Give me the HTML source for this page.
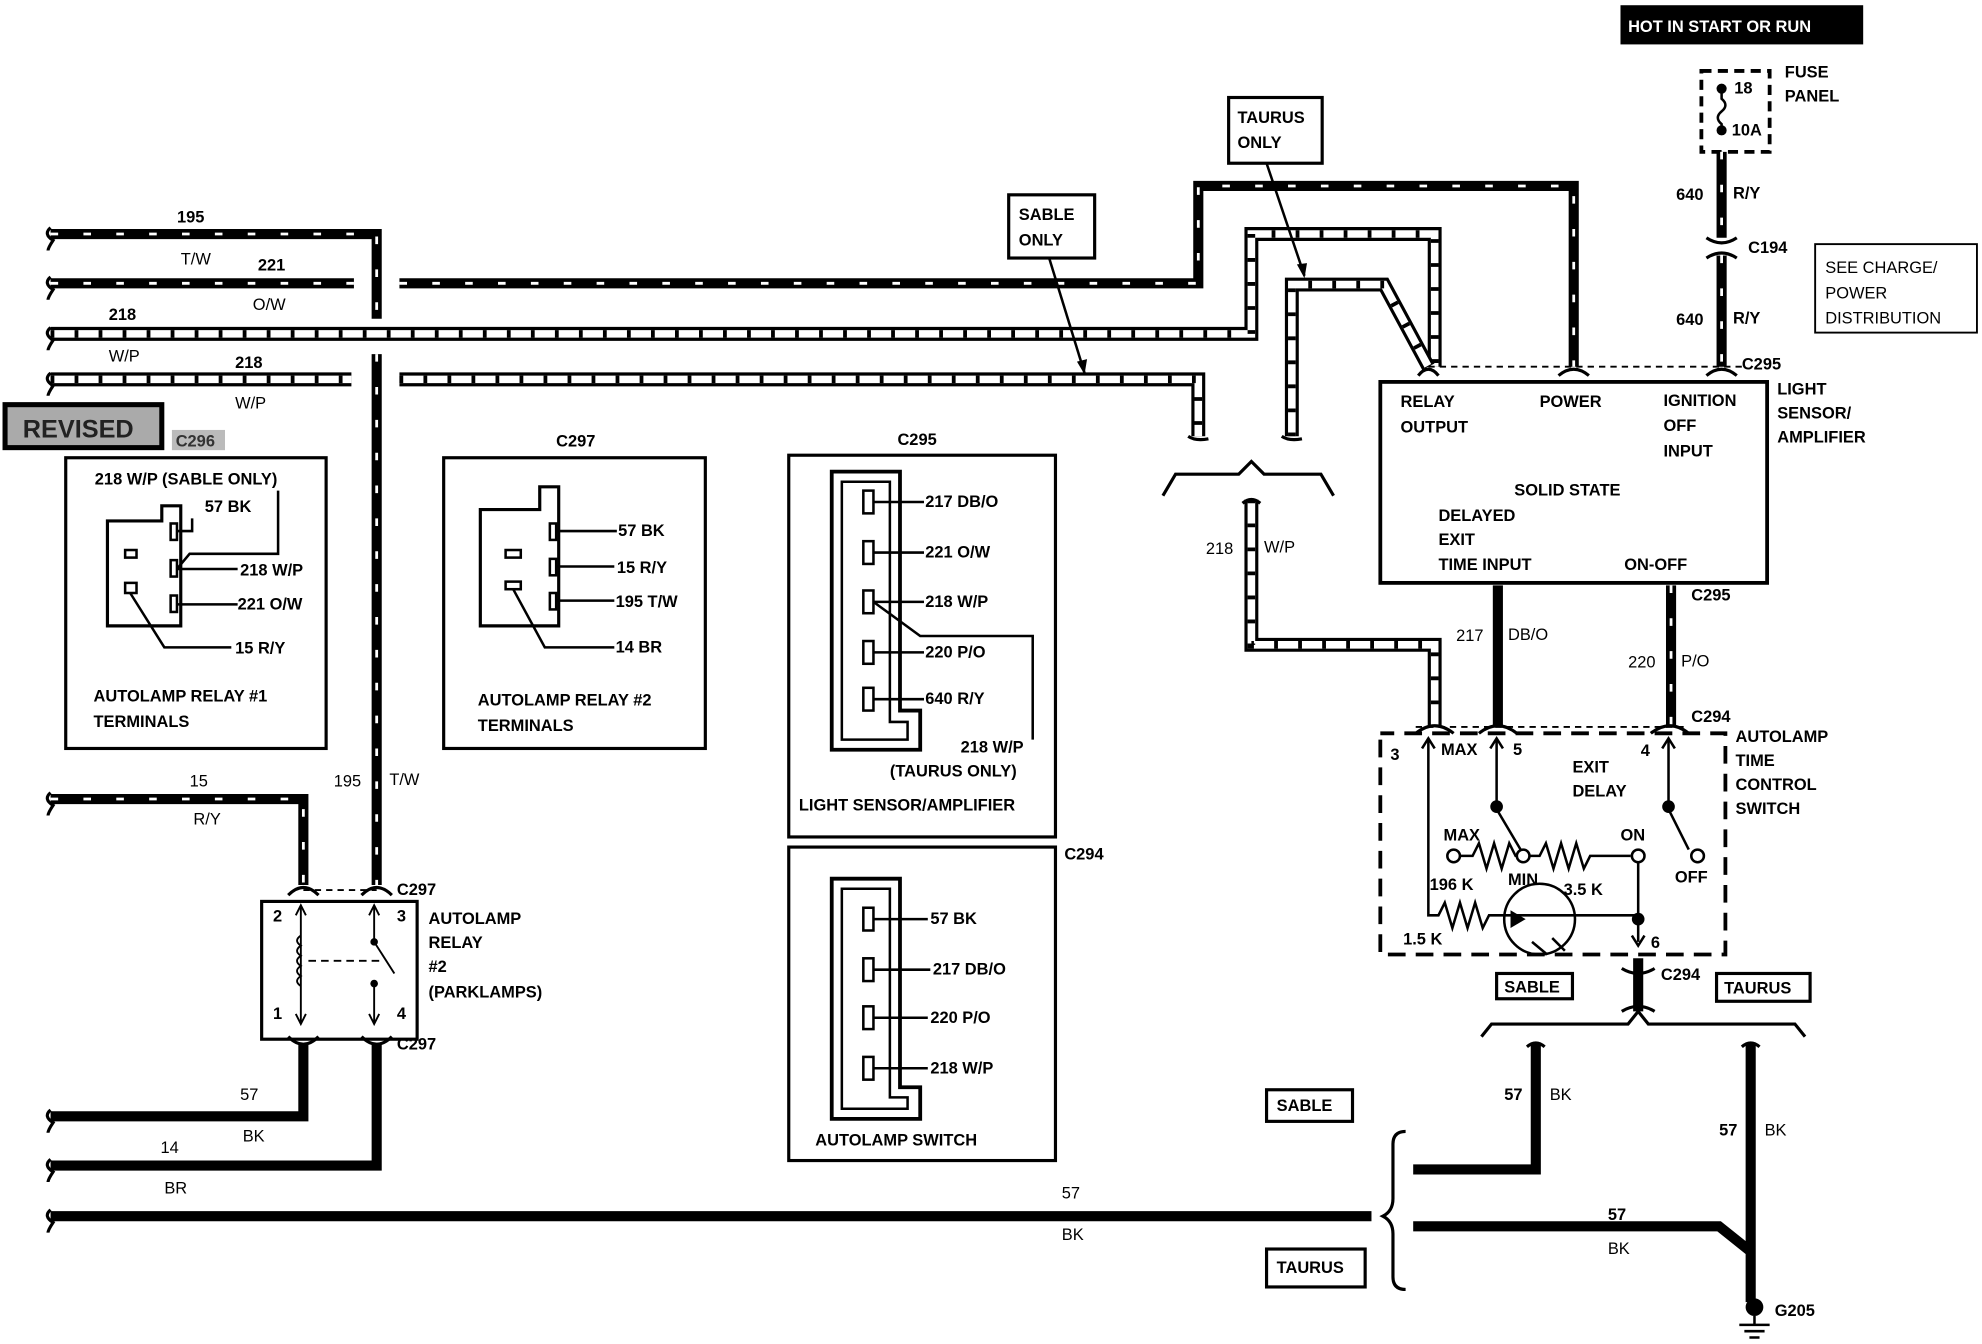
<!DOCTYPE html>
<html><head><meta charset="utf-8"><style>
html,body{margin:0;padding:0;background:#fff;}
svg{display:block;}
text{font-family:"Liberation Sans",sans-serif;font-weight:bold;font-size:13px;fill:#000;}
.w{fill:none;stroke:#000;stroke-width:8;stroke-linejoin:miter;}
.s{fill:none;stroke:#fff;stroke-width:2.2;stroke-dasharray:6 20;}
.h1{fill:none;stroke:#000;stroke-width:11;}
.h2{fill:none;stroke:#fff;stroke-width:6;}
.h3{fill:none;stroke:#000;stroke-width:6;stroke-dasharray:3 16;}
.t{fill:none;stroke:#000;stroke-width:2;}
.b{fill:none;stroke:#000;stroke-width:2.5;}
.d{fill:none;stroke:#000;stroke-width:3;stroke-dasharray:14 8;}
.dd{fill:none;stroke:#000;stroke-width:1.5;stroke-dasharray:5 4;}
</style></head><body>
<svg width="1982" height="1344" viewBox="0 0 1568 1063" xmlns="http://www.w3.org/2000/svg">
<rect x="1282" y="4" width="192" height="31" fill="#000"/>
<text x="1288" y="25" style="fill:#fff;font-size:13px">HOT IN START OR RUN</text>
<rect x="1346" y="56" width="54" height="64" class="dd" style="stroke-width:3;stroke-dasharray:8 5"/>
<circle cx="1362" cy="70" r="4"/><circle cx="1362" cy="103" r="4"/>
<path d="M1362 70 v8 q6 5 0 10 q-6 5 0 10 v5" class="t"/>
<text x="1372" y="74">18</text><text x="1370" y="107">10A</text>
<text x="1412" y="61">FUSE</text><text x="1412" y="80">PANEL</text>
<rect x="1436" y="193" width="128" height="70" class="t" style="stroke-width:1.5"/>
<text x="1444" y="216" style="font-weight:normal">SEE CHARGE/</text>
<text x="1444" y="236" style="font-weight:normal">POWER</text>
<text x="1444" y="256" style="font-weight:normal">DISTRIBUTION</text>

<path d="M1362 120 V188 M1362 202 V290" class="w"/><path d="M1362 120 V188 M1362 202 V290" class="s"/>
<path d="M1350 188 q12 8 24 0 M1350 204 q12 -8 24 0" class="b"/>
<text x="1326" y="158">640</text><text x="1371" y="157">R/Y</text>
<text x="1383" y="200">C194</text>
<text x="1326" y="257">640</text><text x="1371" y="256">R/Y</text>

<path d="M40 185 H298 V252" class="w"/><path d="M40 185 H298 V252" class="s"/>
<path d="M298 280 V700" class="w"/><path d="M298 280 V700" class="s"/>
<path d="M40 224 H280 M316 224 H948 V147 H1245 V290" class="w"/><path d="M40 224 H280 M316 224 H948 V147 H1245 V290" class="s"/>
<path d="M40 264 H990 V185 H1135 V290" class="h1"/><path d="M40 264 H990 V185 H1135 V290" class="h2"/><path d="M40 264 H990 V185 H1135 V290" class="h3"/>
<path d="M40 300 H278 M316 300 H948 V345" class="h1"/><path d="M40 300 H278 M316 300 H948 V345" class="h2"/><path d="M40 300 H278 M316 300 H948 V345" class="h3"/>
<path d="M1022 345 V225 H1095 L1130 290" class="h1"/><path d="M1022 345 V225 H1095 L1130 290" class="h2"/><path d="M1022 345 V225 H1095 L1130 290" class="h3"/>
<g class="b"><path d="M40 180 q-6 5 2 10 q-4 6 -4 8 M40 219 q-6 5 2 10 q-4 6 -4 8 M40 259 q-6 5 2 10 q-4 6 -4 8 M40 295 q-6 5 2 10 q-4 6 -4 8 M40 627 q-6 5 2 10 q-4 6 -4 8 M40 878 q-6 5 2 10 q-4 6 -4 8 M40 917 q-6 5 2 10 q-4 6 -4 8 M40 957 q-6 5 2 10 q-4 6 -4 8"/>
<path d="M940 345 q6 4 16 2 M1014 345 q6 4 16 2"/></g>
<text x="140" y="176">195</text><text x="143" y="209" style="font-weight:normal">T/W</text>
<text x="204" y="214">221</text><text x="200" y="245" style="font-weight:normal">O/W</text>
<text x="86" y="253">218</text><text x="86" y="286" style="font-weight:normal">W/P</text>
<text x="186" y="291">218</text><text x="186" y="323" style="font-weight:normal">W/P</text>

<rect x="798" y="154" width="68" height="50" fill="#fff" class="b"/>
<text x="806" y="174">SABLE</text><text x="806" y="194">ONLY</text>
<path d="M830 204 L858 295" class="t"/><path d="M852 286 l6 10 l2 -12z"/>
<rect x="972" y="77" width="74" height="52" fill="#fff" class="b"/>
<text x="979" y="97">TAURUS</text><text x="979" y="117">ONLY</text>
<path d="M1002 129 L1032 218" class="t"/><path d="M1026 209 l6 11 l2 -12z"/>

<path d="M920 392 L930 375 H980 L990 365 L1000 375 H1045 L1055 392" class="b"/>
<path d="M990 395 V510 H1135 V575" class="h1"/><path d="M990 395 V510 H1135 V575" class="h2"/><path d="M990 395 V510 H1135 V575" class="h3"/>
<path d="M983 398 q7 -6 14 0" class="b"/>
<text x="954" y="438" style="font-weight:normal">218</text><text x="1000" y="437" style="font-weight:normal">W/P</text>

<rect x="1092" y="302" width="306" height="159" class="b" style="stroke-width:3"/>
<path d="M1130 290 H1380" class="dd"/>
<g class="b"><path d="M1122 297 q8 -10 16 0 M1233 297 q12 -10 24 0 M1350 297 q12 -10 24 0"/></g>
<text x="1108" y="322">RELAY</text><text x="1108" y="342">OUTPUT</text>
<text x="1218" y="322">POWER</text>
<text x="1316" y="321">IGNITION</text><text x="1316" y="341">OFF</text><text x="1316" y="361">INPUT</text>
<text x="1198" y="392">SOLID STATE</text><text x="1138" y="412">DELAYED</text><text x="1138" y="431">EXIT</text><text x="1138" y="451">TIME INPUT</text>
<text x="1285" y="451">ON-OFF</text>
<text x="1378" y="292">C295</text>
<text x="1406" y="312">LIGHT</text><text x="1406" y="331">SENSOR/</text><text x="1406" y="350">AMPLIFIER</text>
<text x="1338" y="475">C295</text>

<path d="M1185 463 V575" class="w"/>
<path d="M1322 463 V575" class="w"/><path d="M1322 463 V575" class="s"/>
<text x="1152" y="507" style="font-weight:normal">217</text><text x="1193" y="506" style="font-weight:normal">DB/O</text>
<text x="1288" y="528" style="font-weight:normal">220</text><text x="1330" y="527" style="font-weight:normal">P/O</text>

<path d="M1120 575 H1335" class="dd"/>
<g class="b"><path d="M1120 580 q15 -12 30 0 M1170 580 q15 -12 30 0 M1306 580 q15 -12 30 0"/></g>
<text x="1338" y="571">C294</text>
<path d="M1092 585 V755 H1365 V580 H1092" class="d"/>
<text x="1100" y="601">3</text><text x="1140" y="597">MAX</text><text x="1197" y="597">5</text><text x="1298" y="598">4</text>
<text x="1244" y="611">EXIT</text><text x="1244" y="630">DELAY</text>
<text x="1373" y="587">AUTOLAMP</text><text x="1373" y="606">TIME</text><text x="1373" y="625">CONTROL</text><text x="1373" y="644">SWITCH</text>
<g class="b" style="stroke-width:2">
<path d="M1130 585 V724 H1138 l5 -10 l6 20 l6 -20 l6 20 l6 -20 l6 20 l5 -10 H1296"/>
<path d="M1184 585 V640 L1203 672"/>
<path d="M1155 677 H1165 l5 -10 l6 20 l6 -20 l6 20 l6 -20 l5 10 H1200"/>
<path d="M1210 677 H1218 l5 -10 l6 20 l6 -20 l6 20 l6 -20 l6 20 l5 -10 H1290"/>
<path d="M1296 682 V745"/>
<path d="M1320 585 V640 L1336 672"/>
<path d="M1125 592 l5 -8 l5 8 M1179 592 l5 -8 l5 8 M1315 592 l5 -8 l5 8 M1291 740 l5 8 l5 -8"/>
<circle cx="1218" cy="727" r="28"/><path d="M1212 745 l12 10 M1228 742 l10 10"/>
</g>
<circle cx="1150" cy="677" r="5" fill="#fff" class="b" style="stroke-width:2"/>
<circle cx="1205" cy="677" r="5" fill="#fff" class="b" style="stroke-width:2"/>
<circle cx="1296" cy="677" r="5" fill="#fff" class="b" style="stroke-width:2"/>
<circle cx="1343" cy="677" r="5" fill="#fff" class="b" style="stroke-width:2"/>
<circle cx="1184" cy="638" r="5"/><circle cx="1320" cy="638" r="5"/><circle cx="1296" cy="727" r="5"/>
<path d="M1195 720 l12 7 l-12 7z"/>
<text x="1142" y="665">MAX</text><text x="1282" y="665">ON</text><text x="1325" y="698">OFF</text>
<text x="1131" y="704">196 K</text><text x="1193" y="700">MIN</text><text x="1237" y="708">3.5 K</text>
<text x="1110" y="747">1.5 K</text><text x="1306" y="750">6</text>

<path d="M1296 758 V800" class="w"/>
<path d="M1283 766 q13 8 26 0 M1283 800 q13 -8 26 0" class="b"/>
<text x="1314" y="775">C294</text>
<rect x="1184" y="770" width="60" height="20" class="b"/><text x="1190" y="785">SABLE</text>
<rect x="1358" y="770" width="74" height="22" class="b"/><text x="1364" y="786">TAURUS</text>
<path d="M1172 820 L1180 810 H1288 L1296 800 L1304 810 H1420 L1428 820" class="b"/>
<path d="M1215 825 V925 H1118" class="w"/>
<path d="M1385 825 V990 L1360 970 H1118 M1385 990 V1030" class="w"/>
<path d="M1208 828 q7 -6 14 0 M1378 828 q7 -6 14 0" class="b"/>
<text x="1190" y="870">57</text><text x="1226" y="870" style="font-weight:normal">BK</text>
<text x="1360" y="898">57</text><text x="1396" y="898" style="font-weight:normal">BK</text>
<text x="1272" y="965">57</text><text x="1272" y="992" style="font-weight:normal">BK</text>
<circle cx="1388" cy="1034" r="7"/>
<path d="M1388 1041 v7 M1376 1048 h24 M1380 1053 h16 M1384 1058 h8" class="t"/>
<text x="1404" y="1041">G205</text>
<rect x="1002" y="862" width="68" height="25" class="b"/><text x="1010" y="879">SABLE</text>
<rect x="1002" y="988" width="78" height="30" class="b"/><text x="1010" y="1007">TAURUS</text>
<path d="M1112 895 q-10 0 -10 10 V948 q0 10 -8 14 q8 4 8 14 V1010 q0 10 10 10" class="b"/>
<path d="M40 962 H1085" class="w"/>
<text x="840" y="948" style="font-weight:normal">57</text><text x="840" y="981" style="font-weight:normal">BK</text>

<rect x="2" y="318" width="128" height="38" fill="#000"/>
<rect x="6" y="322" width="120" height="30" fill="#aaa"/>
<text x="18" y="346" style="font-size:20px;fill:#222">REVISED</text>
<rect x="136" y="340" width="42" height="16" fill="#bbb"/><text x="139" y="353" style="fill:#333">C296</text>

<rect x="52" y="362" width="206" height="230" class="b"/>
<text x="75" y="383">218 W/P (SABLE ONLY)</text>
<path d="M85 412 H128 V400 H143 V495 H85Z" class="b"/>
<g class="t"><rect x="99" y="435" width="9" height="6"/><rect x="99" y="461" width="9" height="8"/><rect x="135" y="414" width="5" height="13"/><rect x="135" y="443" width="5" height="13"/><rect x="135" y="471" width="5" height="13"/>
<path d="M140 420 H152 V410 M140 450 L150 438 H220 V388 M140 450 H188 M140 478 H188 M103 469 L130 512 H183"/></g>
<text x="162" y="405">57 BK</text><text x="190" y="455">218 W/P</text><text x="188" y="482">221 O/W</text><text x="186" y="517">15 R/Y</text>
<text x="74" y="555">AUTOLAMP RELAY #1</text><text x="74" y="575">TERMINALS</text>

<text x="440" y="353">C297</text>
<rect x="351" y="362" width="207" height="230" class="b"/>
<path d="M380 403 H427 V385 H442 V495 H380Z" class="b"/>
<g class="t"><rect x="400" y="435" width="12" height="6"/><rect x="400" y="460" width="12" height="6"/><rect x="435" y="414" width="5" height="13"/><rect x="435" y="442" width="5" height="13"/><rect x="435" y="469" width="5" height="13"/>
<path d="M440 420 H488 M440 448 H486 M440 475 H486 M406 466 L431 512 H486"/></g>
<text x="489" y="424">57 BK</text><text x="488" y="453">15 R/Y</text><text x="487" y="480">195 T/W</text><text x="487" y="516">14 BR</text>
<text x="378" y="558">AUTOLAMP RELAY #2</text><text x="378" y="578">TERMINALS</text>

<text x="710" y="352">C295</text>
<rect x="624" y="360" width="211" height="302" class="b"/>
<path d="M658 373 H712 V562 H728 V593 H658Z" class="b" style="stroke-width:3"/>
<path d="M666 381 H704 V571 H718 V585 H666Z" class="t"/>
<g class="t"><rect x="683" y="388" width="8" height="18"/><rect x="683" y="428" width="8" height="18"/><rect x="683" y="467" width="8" height="18"/><rect x="683" y="507" width="8" height="18"/><rect x="683" y="544" width="8" height="18"/>
<path d="M691 397 H731 M691 437 H731 M691 476 H731 M691 516 H731 M691 553 H731 M691 476 L728 503 H817 V585"/></g>
<text x="732" y="401">217 DB/O</text><text x="732" y="441">221 O/W</text><text x="732" y="480">218 W/P</text><text x="732" y="520">220 P/O</text><text x="732" y="557">640 R/Y</text>
<text x="760" y="595">218 W/P</text><text x="704" y="614">(TAURUS ONLY)</text>
<text x="632" y="641">LIGHT SENSOR/AMPLIFIER</text>

<text x="842" y="680">C294</text>
<rect x="624" y="670" width="211" height="248" class="b"/>
<path d="M658 695 H712 V860 H728 V885 H658Z" class="b" style="stroke-width:3"/>
<path d="M666 703 H704 V868 H718 V877 H666Z" class="t"/>
<g class="t"><rect x="683" y="718" width="8" height="18"/><rect x="683" y="758" width="8" height="18"/><rect x="683" y="796" width="8" height="18"/><rect x="683" y="836" width="8" height="18"/>
<path d="M691 727 H734 M691 767 H736 M691 805 H734 M691 845 H734"/></g>
<text x="736" y="731">57 BK</text><text x="738" y="771">217 DB/O</text><text x="736" y="809">220 P/O</text><text x="736" y="849">218 W/P</text>
<text x="645" y="906">AUTOLAMP SWITCH</text>

<path d="M40 632 H240 V700" class="w"/><path d="M40 632 H240 V700" class="s"/>
<path d="M240 825 V883 H40" class="w"/>
<path d="M298 825 V922 H40" class="w"/>
<text x="150" y="622" style="font-weight:normal">15</text><text x="153" y="652" style="font-weight:normal">R/Y</text>
<text x="264" y="622" style="font-weight:normal">195</text><text x="308" y="621" style="font-weight:normal">T/W</text>
<text x="190" y="870" style="font-weight:normal">57</text><text x="192" y="903" style="font-weight:normal">BK</text>
<text x="127" y="912" style="font-weight:normal">14</text><text x="130" y="944" style="font-weight:normal">BR</text>
<g class="b"><path d="M228 708 q12 -12 24 0 M286 708 q12 -12 24 0 M228 820 q12 12 24 0 M286 820 q12 12 24 0"/></g>
<path d="M240 704 H298 M240 822 H298" class="dd"/>
<rect x="207" y="713" width="123" height="109" class="b"/>
<g class="t" style="stroke-width:1.5">
<path d="M238 716 V810 M234 724 l4 -8 l4 8 M234 802 l4 8 l4 -8 M296 716 V745 L312 770 M296 780 V810 M292 724 l4 -8 l4 8 M292 802 l4 8 l4 -8"/>
<path d="M238 740 q-6 4 0 8 q-6 4 0 8 q-6 4 0 8 q-6 4 0 8 q-6 4 0 8" /><path d="M244 760 H300" stroke-dasharray="6 4"/>
</g>
<circle cx="296" cy="745" r="3"/><circle cx="296" cy="778" r="3"/>
<text x="216" y="729">2</text><text x="314" y="729">3</text><text x="216" y="806">1</text><text x="314" y="806">4</text>
<text x="314" y="708">C297</text><text x="314" y="830">C297</text>
<text x="339" y="731">AUTOLAMP</text><text x="339" y="750">RELAY</text><text x="339" y="769">#2</text><text x="339" y="789">(PARKLAMPS)</text>
</svg>
</body></html>
